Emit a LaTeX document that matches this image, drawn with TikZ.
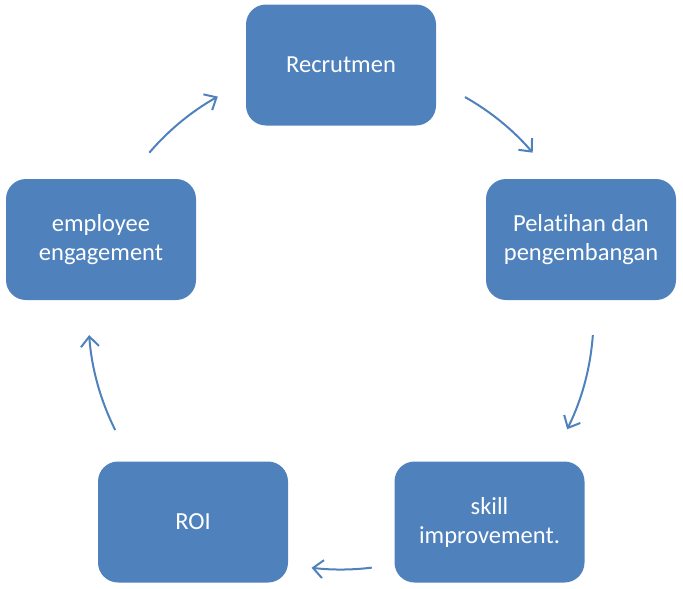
\documentclass[tikz,border=0pt]{standalone}
\usepackage{fontspec}
\setmainfont{Carlito}[Ligatures={NoCommon}]
\usetikzlibrary{arrows.meta}
\definecolor{boxblue}{HTML}{4F81BD}
\tikzset{
  stagebox/.style={fill=boxblue, draw=none, rounded corners=20pt,
    minimum width=190pt, minimum height=121pt, inner sep=0pt,
    text=white, align=center, font=\fontsize{24.5}{29}\selectfont},
  cyclearrow/.style={draw=boxblue, line width=2pt,
    -{Straight Barb[length=10pt,width=18pt,line width=2pt]}}
}
\begin{document}
\begin{tikzpicture}[x=1pt,y=-1pt]
\useasboundingbox (0,0) rectangle (683,589);
\coordinate (c) at (341,317);
\node[stagebox] (rec) at (341,65) {Recrutmen};
\node[stagebox] (pel) at (581,239.5) {Pelatihan dan\\pengembangan};
\node[stagebox] (ski) at (489.5,522) {skill\\improvement.};
\node[stagebox] (roi) at (193,522) {ROI};
\node[stagebox] (emp) at (101,239.5) {employee\\engagement};
\draw[cyclearrow] (c) ++(-60.6:252.5) arc[start angle=-60.6, end angle=-40.6, radius=252.5];
\draw[cyclearrow] (c) ++(4.1:252.5) arc[start angle=4.1, end angle=26.4, radius=252.5];
\draw[cyclearrow] (c) ++(83.0:252.5) arc[start angle=83.0, end angle=96.7, radius=252.5];
\draw[cyclearrow] (c) ++(153.4:252.5) arc[start angle=153.4, end angle=175.9, radius=252.5];
\draw[cyclearrow] (c) ++(220.6:252.5) arc[start angle=220.6, end angle=240.8, radius=252.5];
\end{tikzpicture}
\end{document}
